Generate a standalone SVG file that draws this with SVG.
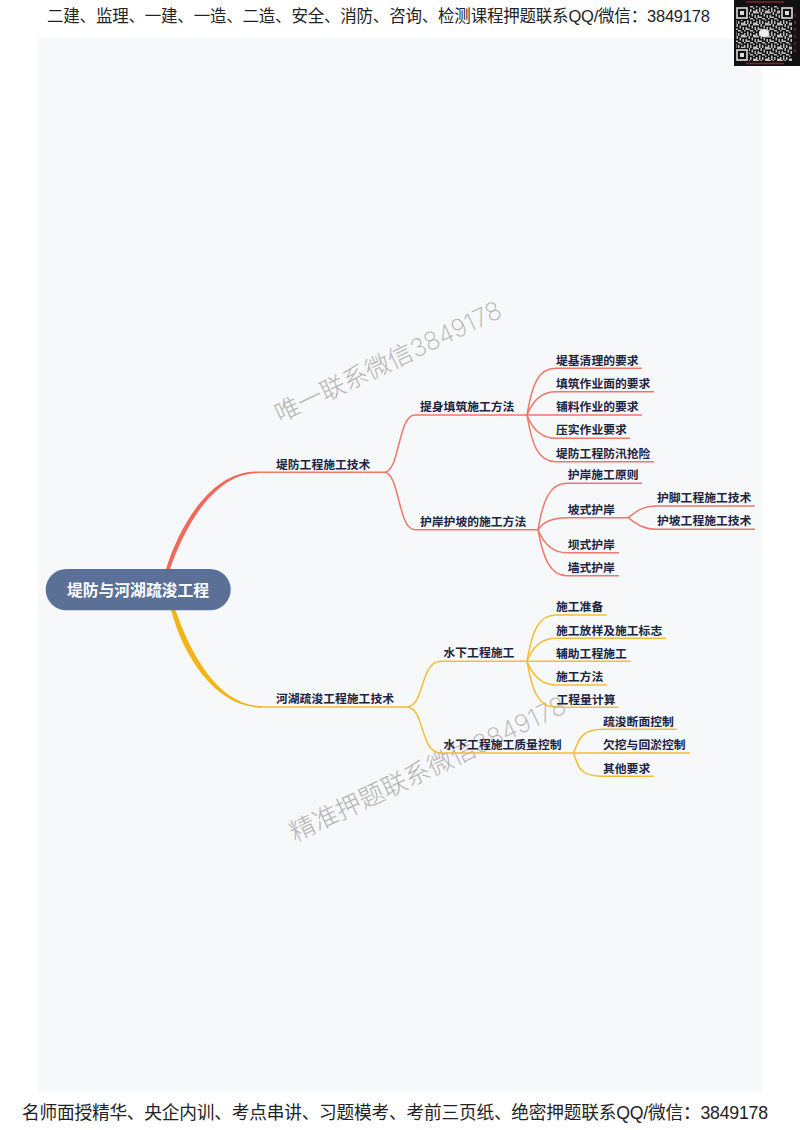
<svg xmlns="http://www.w3.org/2000/svg" width="800" height="1130" viewBox="0 0 800 1130">
<style>
text{font-family:"Noto Sans CJK SC","Liberation Sans",sans-serif}
.banner{font-family:"Liberation Sans","Noto Sans CJK SC",sans-serif;fill:#222}
.n{font-size:11.8px;font-weight:700;fill:#1b2340}
.root{font-size:15.8px;font-weight:700;fill:#fff;text-anchor:middle}
.wm{font-family:"Inter","Noto Sans CJK SC",sans-serif;fill:#b4b4b6;font-weight:200}
.r{fill:none;stroke:#f0776b;stroke-width:1.5}
.y{fill:none;stroke:#f5bd35;stroke-width:1.5}
</style>
<defs>
<pattern id="qr" width="12" height="12" patternUnits="userSpaceOnUse">
<path fill="#c0c0c0" d="M0 0h3v1.5H0zM4.5 0h1.5v3H4.5zM9 0h3v1.5H9zM1.5 3h1.5v3H1.5zM7.5 1.5h1.5v3H7.5zM3 4.5h3V6H3zM10.5 3H12v3h-1.5zM0 6h1.5v1.5H0zM6 6h3v1.5H6zM3 7.5h1.5V12H3zM9 7.5h1.5v1.5H9zM0 9h1.5v3H0zM6 9h1.5v3H6zM9 10.5h3V12H9z"/>
</pattern>
</defs>
<rect width="800" height="1130" fill="#fff"/>
<rect x="38" y="38" width="724" height="1054" fill="#f6f8f9"/>
<text id="header" class="banner" x="47" y="22" font-size="16.500" textLength="663" lengthAdjust="spacing">二建、监理、一建、一造、二造、安全、消防、咨询、检测课程押题联系QQ/微信：3849178</text>
<text id="footer" class="banner" x="22" y="1119" font-size="17.700" textLength="746" lengthAdjust="spacing">名师面授精华、央企内训、考点串讲、习题模考、考前三页纸、绝密押题联系QQ/微信：3849178</text>
<g id="qrcode">
<rect x="734" y="0" width="66" height="66" fill="#111"/>
<rect x="736" y="6" width="56" height="55" fill="url(#qr)"/>
<g fill="#111"><rect x="735" y="6" width="14" height="14"/><rect x="780" y="6" width="14" height="14"/><rect x="735" y="48" width="14" height="14"/></g>
<g fill="none" stroke="#ddd" stroke-width="1.6"><rect x="737" y="8" width="10" height="10"/><rect x="782" y="8" width="10" height="10"/><rect x="737" y="50" width="10" height="10"/></g>
<g fill="#ddd"><rect x="740" y="11" width="4" height="4"/><rect x="785" y="11" width="4" height="4"/><rect x="740" y="53" width="4" height="4"/></g>
<ellipse cx="764" cy="33" rx="5" ry="4" fill="#eee"/>
<g stroke="#8c1f2a" stroke-width="1.5" fill="none"><path d="M746 2H784M746 63.500H784"/><path d="M795 14V52" stroke-dasharray="3 4"/></g>
</g>
<g id="watermarks">
<text class="wm" font-size="25" transform="translate(280 423) rotate(-25.500)">唯一联系微信3849178</text>
<text class="wm" font-size="25.400" transform="translate(295 842) rotate(-25.500)">精准押题联系微信3849178</text>
</g>
<g id="connectors">
<path d="M170 569C184 528 214 473.300 257 473.200L257 471.600C212 471 180 524 166 569Z" fill="#f0695a"/>
<path d="M171 610C184 658 216 707.500 262 707.500L262 706.300C220 705.500 192 658 175.500 610Z" fill="#f3b415"/>
<g class="r">
<path d="M257 472.300H385"/>
<path d="M385 472.300C400 470 398 415 415 415H527"/>
<path d="M385 472.300C400 475 398 529.700 415 529.700H538"/>
<path d="M527 415C532 385 538 368.300 556 368.300H642"/>
<path d="M527 415C532 402 540 391.700 556 391.700H654"/>
<path d="M527 415H642"/>
<path d="M527 415C532 428 540 438.300 556 438.300H630"/>
<path d="M527 415C532 445 538 461.700 556 461.700H654"/>
<path d="M538 529.700C543 500 550 483.300 567 483.300H642"/>
<path d="M538 529.700C543 522 552 517.700 567 517.700H628"/>
<path d="M538 529.700C543 542 552 552.700 567 552.700H619"/>
<path d="M538 529.700C543 558 550 575.700 567 575.700H619"/>
<path d="M628 517.700C636 512 642 506 657 506H755"/>
<path d="M628 517.700C636 523 642 529.300 657 529.300H755"/>
</g>
<g class="y">
<path d="M257 706.900H408"/>
<path d="M408 706.900C425 704 420 661.300 441 661.300H527"/>
<path d="M408 706.900C425 710 420 753 441 753H573.500"/>
<path d="M527 661.300C532 632 538 615 556 615H606.700"/>
<path d="M527 661.300C532 648 540 638.300 556 638.300H666"/>
<path d="M527 661.300H630.700"/>
<path d="M527 661.300C532 674 540 685 556 685H607"/>
<path d="M527 661.300C532 690 538 707.300 556 707.300H618.300"/>
<path d="M573.500 753C578 744 578 729.300 603 729.300H677"/>
<path d="M573.500 753H690"/>
<path d="M573.500 753C578 765 578 776.300 603 776.300H654"/>
</g>
</g>
<g id="root"><rect x="45.700" y="569" width="185" height="41.300" rx="20.600" fill="#5b7097"/><text class="root" x="138" y="595.500">堤防与河湖疏浚工程</text></g>
<g id="n1"><text class="n" x="276" y="468.500">堤防工程施工技术</text></g>
<g id="n2"><text class="n" x="276" y="703">河湖疏浚工程施工技术</text></g>
<g id="n11"><text class="n" x="420" y="411">提身填筑施工方法</text></g>
<g id="n12"><text class="n" x="420" y="525.500">护岸护坡的施工方法</text></g>
<g id="n111"><text class="n" x="556" y="364.500">堤基清理的要求</text></g>
<g id="n112"><text class="n" x="556" y="387.500">填筑作业面的要求</text></g>
<g id="n113"><text class="n" x="556" y="411">铺料作业的要求</text></g>
<g id="n114"><text class="n" x="556" y="434">压实作业要求</text></g>
<g id="n115"><text class="n" x="556" y="457.500">堤防工程防汛抢险</text></g>
<g id="n121"><text class="n" x="567.700" y="479">护岸施工原则</text></g>
<g id="n122"><text class="n" x="567.700" y="514">坡式护岸</text></g>
<g id="n1221"><text class="n" x="657" y="502">护脚工程施工技术</text></g>
<g id="n1222"><text class="n" x="657" y="525">护坡工程施工技术</text></g>
<g id="n123"><text class="n" x="567.700" y="548.500">坝式护岸</text></g>
<g id="n124"><text class="n" x="567.700" y="572">墙式护岸</text></g>
<g id="n21"><text class="n" x="443.500" y="657">水下工程施工</text></g>
<g id="n22"><text class="n" x="443.500" y="749">水下工程施工质量控制</text></g>
<g id="n211"><text class="n" x="556" y="611">施工准备</text></g>
<g id="n212"><text class="n" x="556" y="634.500">施工放样及施工标志</text></g>
<g id="n213"><text class="n" x="556" y="657.500">辅助工程施工</text></g>
<g id="n214"><text class="n" x="556" y="681">施工方法</text></g>
<g id="n215"><text class="n" x="556.500" y="703.500">工程量计算</text></g>
<g id="n221"><text class="n" x="603" y="725.500">疏浚断面控制</text></g>
<g id="n222"><text class="n" x="603" y="749">欠挖与回淤控制</text></g>
<g id="n223"><text class="n" x="603" y="772.500">其他要求</text></g>
</svg>
